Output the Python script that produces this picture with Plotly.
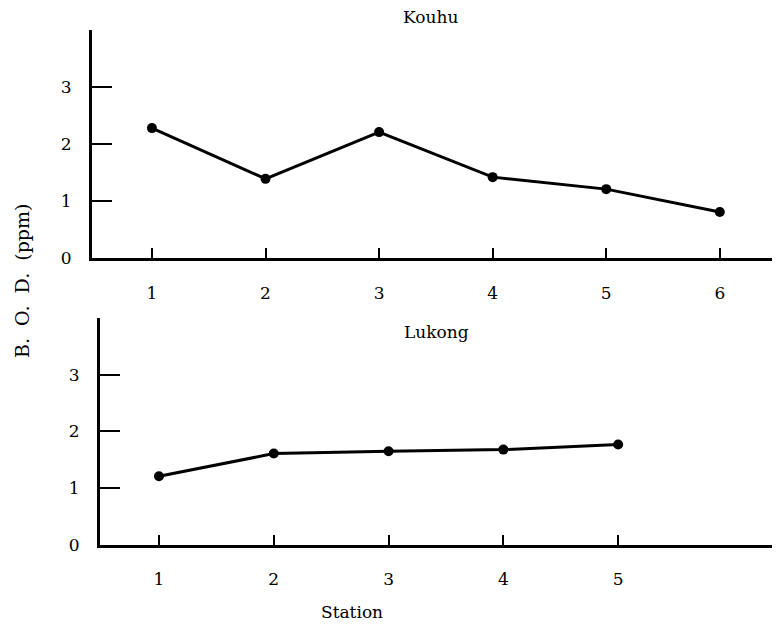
import plotly.graph_objects as go

kouhu_stations = [1, 2, 3, 4, 5, 6]
kouhu_bod = [2.28, 1.39, 2.21, 1.42, 1.21, 0.81]
lukong_stations = [1, 2, 3, 4, 5]
lukong_bod = [1.21, 1.61, 1.65, 1.68, 1.77]
y_ticks = [0, 1, 2, 3]

FONT = "DejaVu Serif"

fig = go.Figure()
fig.add_trace(go.Scatter(x=kouhu_stations, y=kouhu_bod, mode="lines+markers",
                         line=dict(color="black", width=3),
                         marker=dict(color="black", size=10),
                         xaxis="x", yaxis="y", showlegend=False))
fig.add_trace(go.Scatter(x=lukong_stations, y=lukong_bod, mode="lines+markers",
                         line=dict(color="black", width=3),
                         marker=dict(color="black", size=10),
                         xaxis="x2", yaxis="y2", showlegend=False))

axis_common = dict(showgrid=False, zeroline=False, showline=True, linecolor="black",
                   linewidth=3, ticks="inside", tickcolor="black", tickwidth=2,
                   tickfont=dict(family=FONT, size=17, color="black"))

def label(text, x, y, angle=0, size=17):
    return dict(text=text, x=x, y=y, xref="paper", yref="paper", showarrow=False,
                xanchor="center", yanchor="middle", textangle=angle,
                font=dict(family=FONT, size=size, color="black"))

fig.update_layout(
    width=772, height=621,
    margin=dict(l=84, r=0, t=22, b=84),
    plot_bgcolor="white", paper_bgcolor="white",
    xaxis=dict(domain=[0, 1], range=[0.472, 6.53], anchor="y",
               tickvals=kouhu_stations, ticklen=10, ticklabelstandoff=17, **axis_common),
    yaxis=dict(domain=[0.557, 1], range=[0, 4], anchor="x",
               tickvals=y_ticks, ticklen=20, ticklabelstandoff=14, **axis_common),
    xaxis2=dict(domain=[0.0116, 1], range=[0.486, 6.41], anchor="y2",
                tickvals=lukong_stations, ticklen=10, ticklabelstandoff=17, **axis_common),
    yaxis2=dict(domain=[0, 0.441], range=[0, 4], anchor="x2",
                tickvals=y_ticks, ticklen=20, ticklabelstandoff=14, **axis_common),
    annotations=[
        label("Kouhu", 0.4927, 1.025),
        label("Lukong", 0.501, 0.4136),
        label("Station", 0.378, -0.130),
        label("B.\u00a0 O.\u00a0 D.\u00a0 (ppm)", -0.1017, 0.5126, -90, 19),
    ],
)

fig.write_html("out.html")
